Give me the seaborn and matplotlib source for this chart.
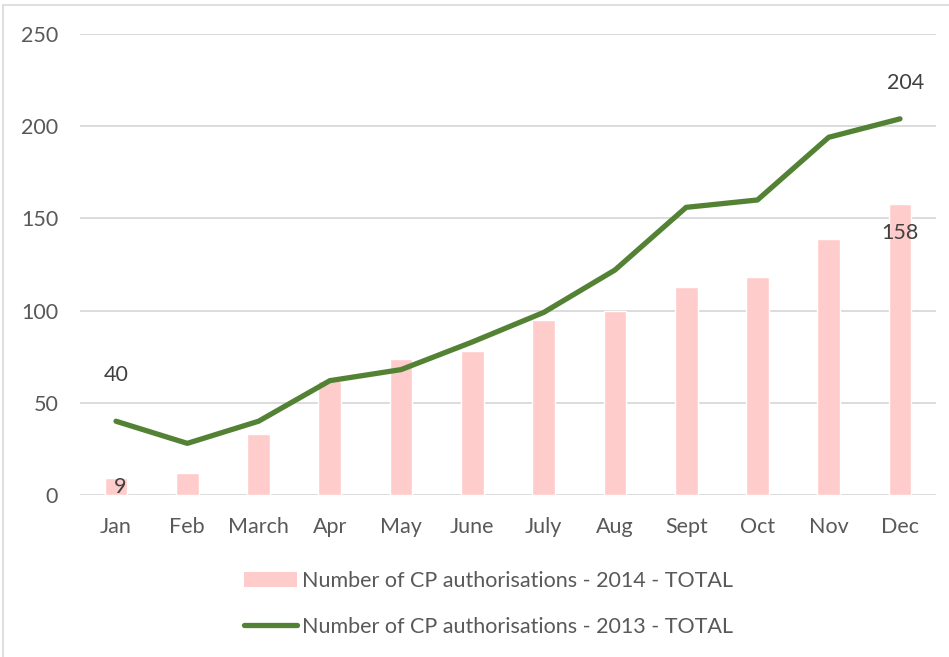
import numpy as np
import pandas as pd
import matplotlib
matplotlib.use("Agg")
import matplotlib.pyplot as plt
import seaborn as sns
from matplotlib.lines import Line2D
from matplotlib.patches import Patch

months = ["Jan", "Feb", "March", "Apr", "May", "June", "July", "Aug", "Sept", "Oct", "Nov", "Dec"]
auth_2014 = [9, 12, 33, 62, 74, 78, 95, 100, 113, 118, 139, 158]
auth_2013 = [40, 28, 40, 62, 68, 83, 99, 122, 156, 160, 194, 204]
label_2014 = "Number of CP authorisations - 2014 - TOTAL"
label_2013 = "Number of CP authorisations - 2013 - TOTAL"
y_ticks = [0, 50, 100, 150, 200, 250]

BAR_COLOR = "#FFCCCC"
LINE_COLOR = "#548235"
TEXT_COLOR = "#595959"
LABEL_COLOR = "#404040"
GRID_COLOR = "#D9D9D9"
FS = 15.5

sns.set_theme(style="white")
plt.rcParams["font.family"] = ["Lato", "DejaVu Sans"]

df = pd.DataFrame({"month": months, "y2014": auth_2014, "y2013": auth_2013})
df["pos"] = np.arange(len(months))

fig = plt.figure(figsize=(9.49, 6.57), dpi=100)
ax = fig.add_axes([0.0847, 0.2466, 0.9012, 0.7016])

sns.barplot(data=df, x="month", y="y2014", color=BAR_COLOR, width=0.32,
            saturation=1, ax=ax, order=months)
sns.lineplot(data=df, x="pos", y="y2013", color=LINE_COLOR, linewidth=3.8,
             ax=ax, solid_capstyle="round")

ax.set_xlim(-0.5, len(months) - 0.5)
ax.set_ylim(0, 250)
ax.set_yticks(y_ticks)
ax.set_xticks(range(len(months)))
ax.set_xticklabels(months)
ax.set_xlabel("")
ax.set_ylabel("")
for s in ax.spines.values():
    s.set_visible(False)
ax.yaxis.grid(True, color=GRID_COLOR, linewidth=1.3)
ax.set_axisbelow(True)
ax.tick_params(axis="both", length=0, labelsize=FS, labelcolor=TEXT_COLOR)
ax.tick_params(axis="x", pad=16)
ax.tick_params(axis="y", pad=16)

# data labels
ax.annotate(str(auth_2013[0]), (0, auth_2013[0]), xytext=(0, 33), textcoords="offset points",
            ha="center", va="center", fontsize=FS, color=LABEL_COLOR)
ax.annotate(str(auth_2013[-1]), (len(months) - 1, auth_2013[-1]), xytext=(4, 26),
            textcoords="offset points", ha="center", va="center", fontsize=FS, color=LABEL_COLOR)
ax.annotate(str(auth_2014[0]), (0, auth_2014[0]), xytext=(3, -6), textcoords="offset points",
            ha="center", va="center", fontsize=FS, color=LABEL_COLOR)
ax.annotate(str(auth_2014[-1]), (len(months) - 1, auth_2014[-1]), xytext=(0, -21),
            textcoords="offset points", ha="center", va="center", fontsize=FS, color=LABEL_COLOR)

handles = [Patch(facecolor=BAR_COLOR, edgecolor="none"),
           Line2D([0], [0], color=LINE_COLOR, linewidth=3.8, solid_capstyle="round")]
fig.legend(handles, [label_2014, label_2013], loc="center", bbox_to_anchor=(0.515, 0.081),
           frameon=False, fontsize=FS, labelcolor=TEXT_COLOR, handlelength=2.45,
           handleheight=0.7, handletextpad=0.25, labelspacing=1.2)

# chart border (top and left)
fig.add_artist(Line2D([3 / 949, 1.0], [1 - 5 / 657, 1 - 5 / 657], transform=fig.transFigure,
                      color=GRID_COLOR, linewidth=1.2))
fig.add_artist(Line2D([3 / 949, 3 / 949], [0.0, 1 - 5 / 657], transform=fig.transFigure,
                      color=GRID_COLOR, linewidth=1.2))

fig.savefig("out.png", dpi=100)
